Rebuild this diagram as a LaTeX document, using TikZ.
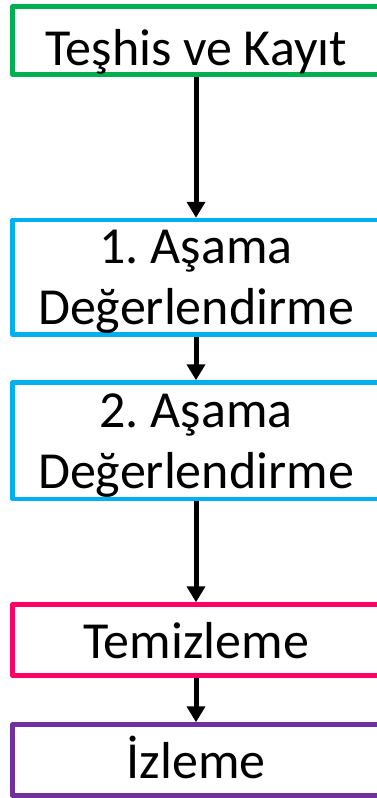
\documentclass[tikz,border=0pt]{standalone}
\usepackage{fontspec}
\setmainfont{Carlito}
\usetikzlibrary{arrows.meta}
\definecolor{cgreen}{HTML}{00B050}
\definecolor{cblue}{HTML}{00B0F0}
\definecolor{cpink}{HTML}{FF0066}
\definecolor{cpurple}{HTML}{7030A0}
\frenchspacing
\begin{document}
\begin{tikzpicture}[x=1pt,y=-1pt,
  box/.style={draw, line width=4.5pt, fill=white, minimum width=367pt, inner sep=0pt,
    align=center, font=\fontsize{52}{61}\selectfont, line join=round},
  arr/.style={line width=5pt, -{Triangle[width=18pt,length=16pt]}}]
\useasboundingbox (0,0) rectangle (377,798);
\clip (0,0) rectangle (377,798);
\node[box, draw=cgreen, minimum height=67.8pt, text height=48.8pt, text depth=0pt] (b1) at (196,40.6) {Teşhis ve Kayıt};
\node[box, draw=cblue, minimum height=114.5pt, text height=93.5pt, text depth=0pt] (b2) at (196,277.25) {1. Aşama\\Değerlendirme};
\node[box, draw=cblue, minimum height=116.5pt, text height=94.5pt, text depth=0pt] (b3) at (196,440.75) {2. Aşama\\Değerlendirme};
\node[box, draw=cpink, minimum height=71pt, text height=36pt, text depth=0pt] (b4) at (196,640) {Temizleme};
\node[box, draw=cpurple, minimum height=71pt, text height=36pt, text depth=0pt] (b5) at (196,760) {İzleme};
\draw[arr] (b1) -- (b2);
\draw[arr] (b2) -- (b3);
\draw[arr] (b3) -- (b4);
\draw[arr] (b4) -- (b5);
\end{tikzpicture}
\end{document}
